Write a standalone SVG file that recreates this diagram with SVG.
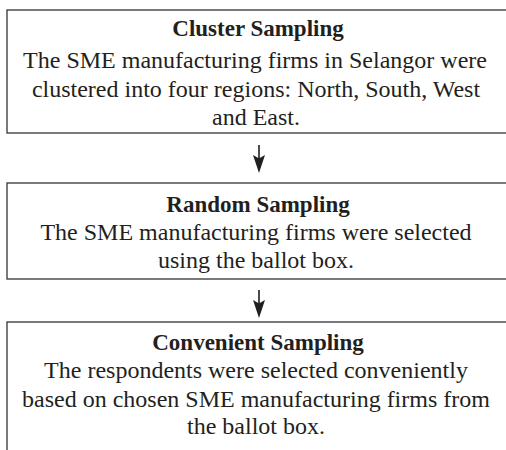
<svg xmlns="http://www.w3.org/2000/svg" width="506" height="450" viewBox="0 0 506 450">
<defs>
<style>
.box{fill:#ffffff;stroke:#333333;stroke-width:1.3}
.head{fill:#231f20}
</style>
</defs>
<rect width="506" height="450" fill="#ffffff"/>
<g id="cluster">
<rect class="box" x="7" y="10" width="510" height="123"/>
<text x="258" y="36" font-family="Liberation Serif, serif" font-size="23" font-weight="bold" text-anchor="middle" fill="#231f20">Cluster Sampling</text>
<text x="255" y="68" font-family="Liberation Serif, serif" font-size="24" text-anchor="middle" fill="#231f20">The SME manufacturing firms in Selangor were</text>
<text x="256" y="97" font-family="Liberation Serif, serif" font-size="24" text-anchor="middle" fill="#231f20">clustered into four regions: North, South, West</text>
<text x="256" y="125" font-family="Liberation Serif, serif" font-size="24" text-anchor="middle" fill="#231f20">and East.</text>
</g>
<g id="random">
<rect class="box" x="7" y="183" width="510" height="96"/>
<text x="258" y="212" font-family="Liberation Serif, serif" font-size="23" font-weight="bold" text-anchor="middle" fill="#231f20">Random Sampling</text>
<text x="256" y="240" font-family="Liberation Serif, serif" font-size="24" text-anchor="middle" fill="#231f20">The SME manufacturing firms were selected</text>
<text x="256" y="268" font-family="Liberation Serif, serif" font-size="24" text-anchor="middle" fill="#231f20">using the ballot box.</text>
</g>
<g id="convenient">
<rect class="box" x="7" y="322" width="510" height="140"/>
<text x="258" y="350" font-family="Liberation Serif, serif" font-size="23" font-weight="bold" text-anchor="middle" fill="#231f20">Convenient Sampling</text>
<text x="256" y="378" font-family="Liberation Serif, serif" font-size="24" text-anchor="middle" fill="#231f20">The respondents were selected conveniently</text>
<text x="256" y="407" font-family="Liberation Serif, serif" font-size="24" text-anchor="middle" fill="#231f20">based on chosen SME manufacturing firms from</text>
<text x="256" y="434" font-family="Liberation Serif, serif" font-size="24" text-anchor="middle" fill="#231f20">the ballot box.</text>
</g>
<g id="connectors">
<polygon class="head" points="258.2,145 259.8,145 259.8,158 265,155 259,173 253,155 258.2,158"/>
<polygon class="head" points="258.2,290 259.8,290 259.8,303 265,300 259,318 253,300 258.2,303"/>
</g>
</svg>
